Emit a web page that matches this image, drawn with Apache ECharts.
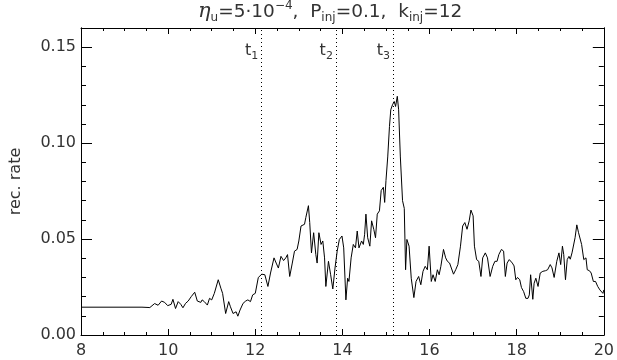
<!DOCTYPE html>
<html>
<head>
<meta charset="utf-8">
<script src="https://cdn.jsdelivr.net/npm/echarts@6/dist/echarts.min.js"></script>
<style>
    html, body { margin: 0; padding: 0; background: #fff; }
    #chartDiv { width: 617px; height: 360px; }
</style>
</head>
<body>
<div id="chartDiv"></div>
<script>

/* time and reconnection rate */
var times = [8.00, 9.40, 9.58, 9.69, 9.77, 9.85, 9.92, 9.99, 10.07, 10.11, 10.17, 10.23, 10.29, 10.34, 10.40, 10.46,
    10.53, 10.61, 10.67, 10.75, 10.78, 10.83, 10.90, 10.95, 11.00, 11.06, 11.15, 11.21, 11.25, 11.32, 11.39, 11.43,
    11.49, 11.56, 11.60, 11.65, 11.72, 11.78, 11.83, 11.89, 11.94, 12.00,
    12.07, 12.15, 12.22, 12.29, 12.35, 12.43, 12.48, 12.53, 12.59, 12.65, 12.70, 12.74, 12.79, 12.85, 12.90, 12.96,
    13.00, 13.05, 13.09, 13.13, 13.16, 13.22, 13.25, 13.29, 13.34, 13.39, 13.42, 13.46, 13.51, 13.55, 13.59,
    13.62, 13.68, 13.73, 13.78, 13.83, 13.88, 13.93, 13.99, 14.03, 14.08, 14.12, 14.15, 14.20, 14.25, 14.30, 14.34,
    14.38, 14.44, 14.48, 14.51, 14.54, 14.58, 14.63, 14.67, 14.72, 14.76, 14.80, 14.85, 14.89, 14.94, 14.97, 15.00,
    15.04, 15.08, 15.11, 15.15, 15.19, 15.22, 15.26, 15.29, 15.33, 15.38, 15.42,
    15.45, 15.48, 15.53, 15.58, 15.64, 15.69, 15.75, 15.80, 15.85, 15.90, 15.95, 15.99, 16.04, 16.08, 16.13, 16.18,
    16.22, 16.26, 16.32, 16.37, 16.41, 16.46, 16.50, 16.55, 16.60, 16.65, 16.71, 16.76, 16.81, 16.86, 16.91, 16.95,
    17.00, 17.03, 17.08, 17.13, 17.18, 17.22, 17.28, 17.33, 17.39, 17.45, 17.50, 17.55, 17.59,
    17.65, 17.70, 17.74, 17.78, 17.83, 17.87, 17.90, 17.94, 17.98, 18.02, 18.07, 18.11, 18.16, 18.21, 18.26, 18.29,
    18.32, 18.37, 18.40, 18.44, 18.49, 18.54, 18.60, 18.66, 18.71, 18.77, 18.81, 18.86, 18.92, 18.97, 19.01, 19.05,
    19.08, 19.12, 19.16, 19.20, 19.23, 19.27, 19.30, 19.34, 19.38, 19.42, 19.45, 19.49, 19.54, 19.59, 19.62, 19.67,
    19.71, 19.76, 19.81, 19.86, 19.91, 19.95, 19.98, 20.00];

var rates = [0.0145, 0.0145, 0.0143, 0.0164, 0.0155, 0.0177, 0.0170, 0.0153, 0.0160, 0.0186, 0.0138, 0.0174, 0.0160, 0.0142, 0.0165, 0.0177,
    0.0200, 0.0223, 0.0177, 0.0170, 0.0183, 0.0174, 0.0156, 0.0191, 0.0183, 0.0217, 0.0288, 0.0244, 0.0217, 0.0112, 0.0174, 0.0147,
    0.0112, 0.0121, 0.0098, 0.0130, 0.0165, 0.0177, 0.0183, 0.0174, 0.0209, 0.0217,
    0.0300, 0.0317, 0.0314, 0.0253, 0.0323, 0.0402, 0.0375, 0.0349, 0.0410, 0.0388, 0.0402, 0.0419, 0.0305, 0.0375, 0.0437, 0.0446,
    0.0490, 0.0568, 0.0560, 0.0577, 0.0612, 0.0674, 0.0586, 0.0428, 0.0533, 0.0419, 0.0375, 0.0533, 0.0472, 0.0490, 0.0402,
    0.0253, 0.0384, 0.0314, 0.0240, 0.0349, 0.0437, 0.0498, 0.0516, 0.0454, 0.0183, 0.0296, 0.0279, 0.0402, 0.0472, 0.0454, 0.0542,
    0.0454, 0.0490, 0.0472, 0.0525, 0.0630, 0.0507, 0.0463, 0.0595, 0.0551, 0.0507, 0.0630, 0.0647, 0.0753, 0.0770, 0.0691, 0.0805,
    0.0928, 0.1086, 0.1174, 0.1200, 0.1217, 0.1191, 0.1244, 0.1174, 0.0928, 0.0700, 0.0660,
    0.0340, 0.0498, 0.0463, 0.0296, 0.0195, 0.0279, 0.0305, 0.0262, 0.0332, 0.0358, 0.0340, 0.0463, 0.0279, 0.0314, 0.0279, 0.0340,
    0.0314, 0.0358, 0.0446, 0.0402, 0.0384, 0.0375, 0.0349, 0.0317, 0.0340, 0.0367, 0.0463, 0.0568, 0.0586, 0.0551, 0.0595, 0.0651,
    0.0621, 0.0463, 0.0393, 0.0384, 0.0305, 0.0402, 0.0428, 0.0402, 0.0305, 0.0358, 0.0384, 0.0384, 0.0419,
    0.0446, 0.0437, 0.0305, 0.0375, 0.0393, 0.0402, 0.0375, 0.0360, 0.0288, 0.0300, 0.0288, 0.0247, 0.0226, 0.0191, 0.0191, 0.0209,
    0.0314, 0.0186, 0.0270, 0.0296, 0.0253, 0.0323, 0.0332, 0.0335, 0.0340, 0.0367, 0.0350, 0.0300, 0.0384, 0.0428, 0.0367, 0.0463,
    0.0419, 0.0288, 0.0393, 0.0410, 0.0395, 0.0428, 0.0420, 0.0507, 0.0574, 0.0533, 0.0525, 0.0472, 0.0393, 0.0402, 0.0340, 0.0335,
    0.0323, 0.0279, 0.0279, 0.0253, 0.0235, 0.0245, 0.0217, 0.0235];

/* t1, t2, t3 marker times */
var markTimes = [12.14, 13.85, 15.16];
var markNames = ['1', '2', '3'];
var markLabelY = 0.148;

var xTicks = [8, 20, 2];          /* min, max, interval */
var yTicks = [0, 0.16, 0.05];

var fontName = 'DejaVu Sans';
var textColor = '#333';

function loadRateChart() {

    var rateChart = echarts.init(document.getElementById('chartDiv'));

    var lineData = [];
    for (var i = 0; i < times.length; i++) {
        lineData.push([times[i], rates[i]]);
    }

    var markLineData = [];
    var markLabelData = [];
    for (var j = 0; j < markTimes.length; j++) {
        markLineData.push({xAxis: markTimes[j]});
        markLabelData.push([markTimes[j], markLabelY, markNames[j]]);
    }

    function xAxisOf(pos, showLabel) {
        return {
            type: 'value', gridIndex: 0, position: pos,
            min: xTicks[0], max: xTicks[1], interval: xTicks[2],
            axisLine: {show: true, onZero: false, lineStyle: {color: '#000', width: 1}},
            axisTick: {show: true, inside: true, length: 6, lineStyle: {color: '#000'}},
            minorTick: {show: true, splitNumber: 4, length: 3, lineStyle: {color: '#000'}},
            splitLine: {show: false},
            axisLabel: {show: showLabel, margin: 8, fontSize: 16, color: textColor, fontFamily: fontName}
        };
    }

    function yAxisOf(pos, interval, tickLen, showLabel, name) {
        return {
            type: 'value', gridIndex: 0, position: pos,
            min: yTicks[0], max: yTicks[1], interval: interval,
            name: name, nameLocation: 'middle', nameGap: 57,
            nameTextStyle: {fontSize: 16, color: textColor, fontFamily: fontName},
            axisLine: {show: true, onZero: false, lineStyle: {color: '#000', width: 1}},
            axisTick: {show: true, inside: true, length: tickLen, lineStyle: {color: '#000'}},
            splitLine: {show: false},
            axisLabel: {
                show: showLabel, margin: 5, fontSize: 16, color: textColor, fontFamily: fontName,
                formatter: function (v) {
                    var k = Math.round(v / yTicks[2]);
                    if (Math.abs(k * yTicks[2] - v) > 1e-6) return '';
                    return v.toFixed(2);
                }
            }
        };
    }

    var option = {
        animation: false,
        backgroundColor: '#fff',
        title: {
            text: '{g|η}{sb|u}{n|=5·10}{sp|−4}{n|,  P}{sb|inj}{n|=0.1,  k}{sb|inj}{n|=12}',
            left: 198, top: 0, padding: 0,
            textStyle: {
                fontWeight: 'normal',
                rich: {
                    g: {fontSize: 21, fontStyle: 'italic', fontWeight: 'normal', color: textColor, fontFamily: 'DejaVu Serif', lineHeight: 24, verticalAlign: 'middle'},
                    n: {fontSize: 18.5, fontWeight: 'normal', color: textColor, fontFamily: fontName, lineHeight: 24, verticalAlign: 'middle'},
                    sb: {fontSize: 12, fontWeight: 'normal', color: textColor, fontFamily: fontName, lineHeight: 12, verticalAlign: 'bottom'},
                    sp: {fontSize: 12, fontWeight: 'normal', color: textColor, fontFamily: fontName, lineHeight: 12, verticalAlign: 'top'}
                }
            }
        },
        grid: {left: 66, right: 9, top: 28, bottom: 25},
        xAxis: [xAxisOf('bottom', true), xAxisOf('top', false)],
        yAxis: [
            yAxisOf('left', yTicks[2], 11, true, 'rec. rate'),
            yAxisOf('left', 0.01, 5, false, ''),
            yAxisOf('right', yTicks[2], 11, false, ''),
            yAxisOf('right', 0.01, 5, false, '')
        ],
        series: [
            {
                name: 'rec. rate',
                type: 'line',
                xAxisIndex: 0, yAxisIndex: 0,
                data: lineData,
                showSymbol: false,
                symbol: 'none',
                lineStyle: {color: '#000', width: 1},
                markLine: {
                    silent: true,
                    symbol: ['none', 'none'],
                    label: {show: false},
                    lineStyle: {color: '#000', width: 1, type: [1, 3]},
                    data: markLineData
                }
            },
            {
                name: 'marks',
                type: 'scatter',
                xAxisIndex: 0, yAxisIndex: 0,
                symbolSize: 0,
                itemStyle: {opacity: 1},
                data: markLabelData,
                label: {
                    show: true, position: 'left', distance: 3,
                    formatter: function (p) { return '{t|t}{s|' + p.data[2] + '}'; },
                    rich: {
                        t: {fontSize: 16, color: textColor, fontFamily: fontName, lineHeight: 22, verticalAlign: 'middle'},
                        s: {fontSize: 11, color: textColor, fontFamily: fontName, lineHeight: 10, verticalAlign: 'bottom'}
                    }
                }
            }
        ]
    };

    rateChart.setOption(option);
}

loadRateChart();
</script>
</body>
</html>
